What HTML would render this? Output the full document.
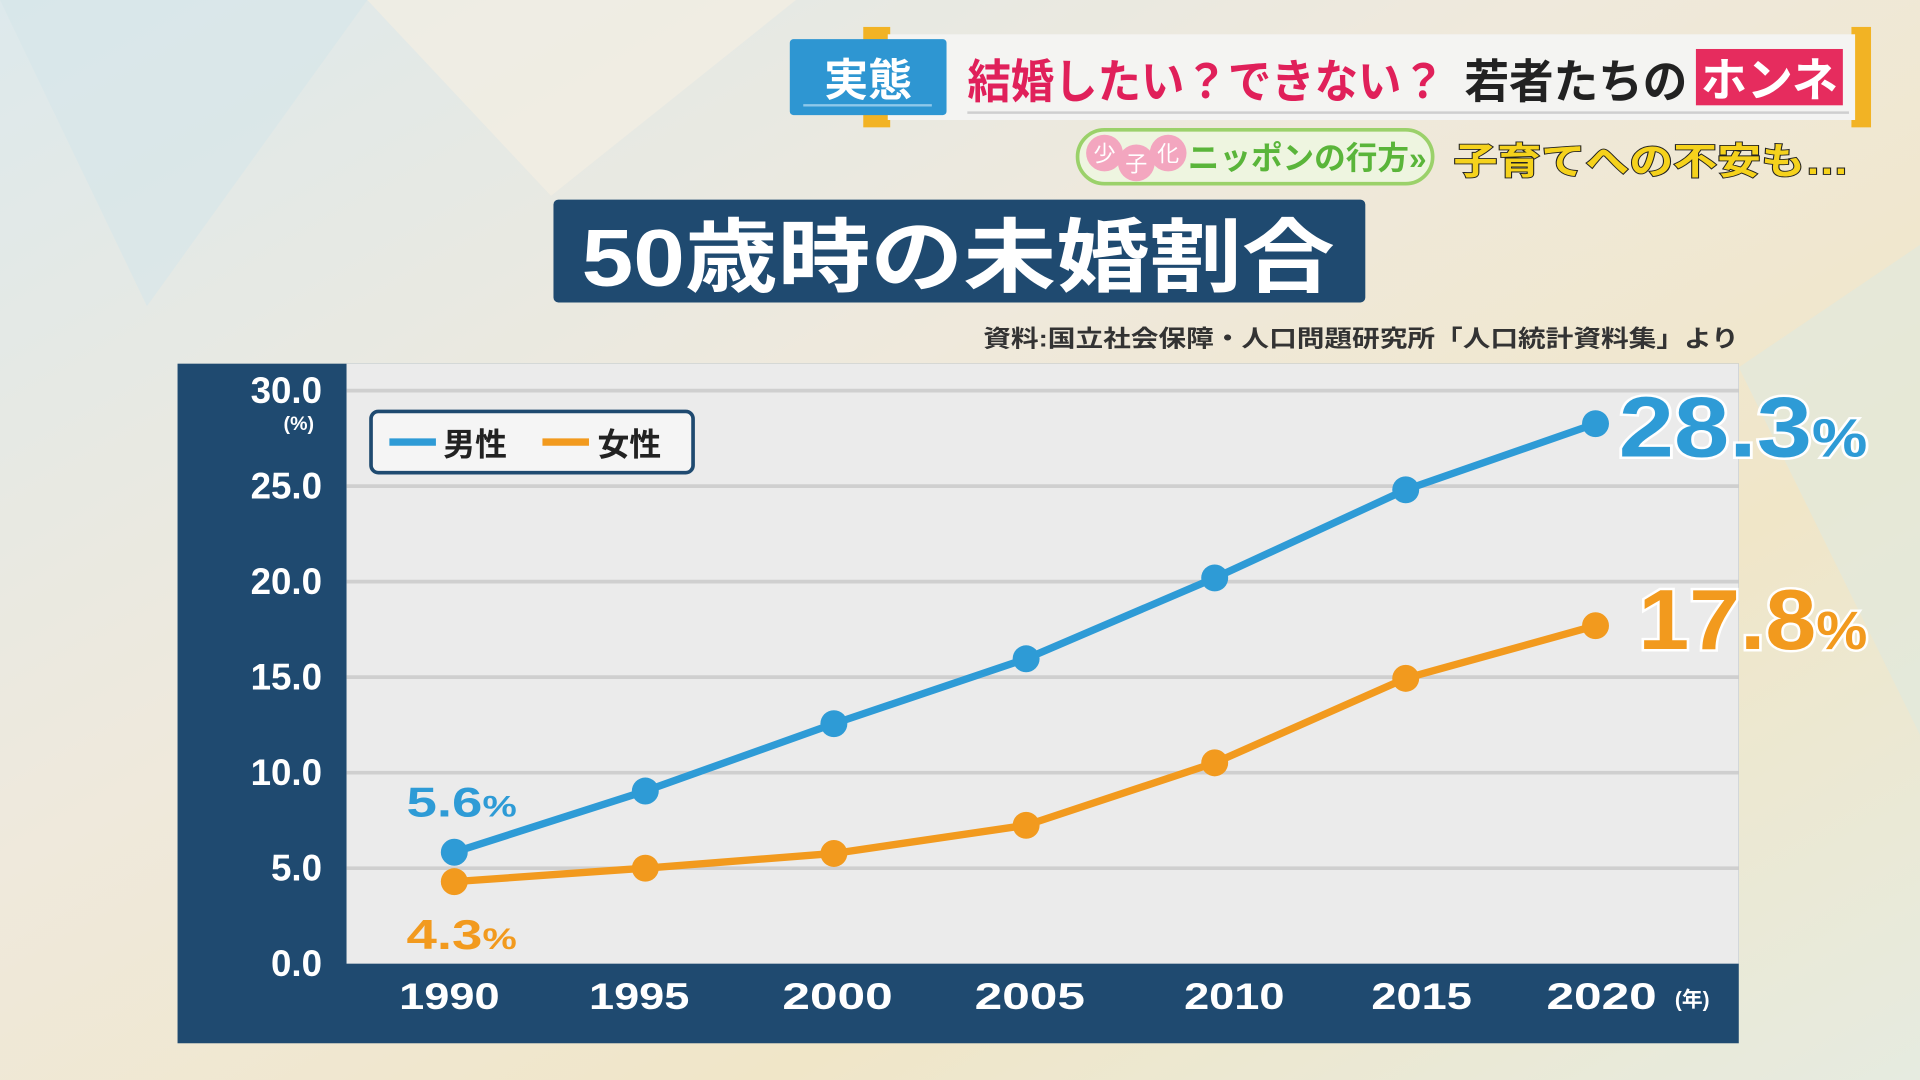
<!DOCTYPE html>
<html><head><meta charset="utf-8"><style>
html,body{margin:0;padding:0;width:1920px;height:1080px;overflow:hidden;background:#eee8d8}
svg{display:block}
text{font-family:"Liberation Sans","Noto Sans CJK JP",sans-serif}
</style></head><body>
<svg width="1920" height="1080" viewBox="0 0 1568 882" xmlns="http://www.w3.org/2000/svg">
<defs>
<linearGradient id="bg" x1="0" y1="0" x2="1" y2="1">
<stop offset="0" stop-color="#dde9ec"/><stop offset="0.4" stop-color="#efe9dc"/><stop offset="0.7" stop-color="#f0e6c8"/><stop offset="1" stop-color="#e6ebe0"/>
</linearGradient>
</defs>
<rect width="1568" height="882" fill="url(#bg)"/>
<polygon points="0,0 300,0 120,250" fill="#d6e6ea" opacity="0.6"/>
<polygon points="1420,300 1568,200 1568,600" fill="#dfeadf" opacity="0.6"/>
<polygon points="300,0 650,0 450,160" fill="#f3eee2" opacity="0.7"/>
<!-- header -->
<rect x="705" y="22" width="22" height="82" fill="#f2b324"/>
<rect x="1512" y="22" width="16" height="82" fill="#f2b324"/>
<rect x="725" y="28" width="790" height="70" fill="#f4f4f2"/>
<line x1="790" y1="92" x2="1510" y2="92" stroke="#cfcfcf" stroke-width="2"/>
<rect x="645" y="32" width="128" height="62" rx="3" fill="#2e96d2"/>
<text x="709" y="78" font-size="36" font-weight="bold" fill="#fff" text-anchor="middle">実態</text>
<line x1="656" y1="86" x2="761" y2="86" stroke="#8fc8ea" stroke-width="2"/>
<text x="790" y="80" font-size="38" font-weight="bold" fill="#e0205a" textLength="390" lengthAdjust="spacingAndGlyphs">結婚したい？できない？</text>
<text x="1196" y="80" font-size="38" font-weight="bold" fill="#222" textLength="182" lengthAdjust="spacingAndGlyphs">若者たちの</text>
<rect x="1385" y="40" width="120" height="46" fill="#e62c5e"/>
<text x="1445" y="79" font-size="38" font-weight="bold" fill="#fff" text-anchor="middle" textLength="112" lengthAdjust="spacingAndGlyphs">ホンネ</text>
<rect x="880" y="106" width="290" height="44" rx="22" fill="#eef5e0" stroke="#9bd16a" stroke-width="3"/>
<circle cx="902" cy="125" r="15" fill="#f3a6bf"/><circle cx="928" cy="133" r="15" fill="#f3a6bf"/><circle cx="954" cy="125" r="15" fill="#f3a6bf"/>
<text x="902" y="132" font-size="18" fill="#fff" text-anchor="middle">少</text>
<text x="928" y="140" font-size="18" fill="#fff" text-anchor="middle">子</text>
<text x="954" y="132" font-size="18" fill="#fff" text-anchor="middle">化</text>
<text x="970" y="138" font-size="26" font-weight="bold" fill="#5ab53a" textLength="195" lengthAdjust="spacingAndGlyphs">ニッポンの行方»</text>
<text x="1187" y="142" font-size="30" font-weight="bold" fill="#f5d21c" stroke="#222" stroke-width="1.5" paint-order="stroke" textLength="323" lengthAdjust="spacingAndGlyphs">子育てへの不安も…</text>
<!-- title -->
<rect x="452" y="163" width="663" height="84" rx="4" fill="#1f4a70"/>
<text x="475" y="233" font-size="66" font-weight="bold" fill="#fff" textLength="615" lengthAdjust="spacingAndGlyphs">50歳時の未婚割合</text>
<text x="803" y="283" font-size="19" font-weight="bold" fill="#333" textLength="617" lengthAdjust="spacingAndGlyphs">資料:国立社会保障・人口問題研究所「人口統計資料集」より</text>
<!-- chart -->
<rect x="145" y="297" width="1275" height="555" fill="#1f4a70"/>
<rect x="283" y="297" width="1137" height="490" fill="#ebebeb"/>
<g stroke="#cfcfcf" stroke-width="3">
<line x1="283" y1="319" x2="1420" y2="319"/><line x1="283" y1="397" x2="1420" y2="397"/>
<line x1="283" y1="475" x2="1420" y2="475"/><line x1="283" y1="553" x2="1420" y2="553"/>
<line x1="283" y1="631" x2="1420" y2="631"/><line x1="283" y1="709" x2="1420" y2="709"/>
</g>
<g font-size="30" font-weight="bold" fill="#fff" text-anchor="end">
<text x="263" y="329">30.0</text><text x="263" y="407">25.0</text><text x="263" y="485">20.0</text>
<text x="263" y="563">15.0</text><text x="263" y="641">10.0</text><text x="263" y="719">5.0</text><text x="263" y="797">0.0</text>
</g>
<text x="244" y="351" font-size="16" font-weight="bold" fill="#fff" text-anchor="middle">(%)</text>
<g font-size="30" font-weight="bold" fill="#fff" text-anchor="middle">
<text x="367" y="824" textLength="82" lengthAdjust="spacingAndGlyphs">1990</text><text x="522" y="824" textLength="82" lengthAdjust="spacingAndGlyphs">1995</text><text x="684" y="824" textLength="90" lengthAdjust="spacingAndGlyphs">2000</text>
<text x="841" y="824" textLength="90" lengthAdjust="spacingAndGlyphs">2005</text><text x="1008" y="824" textLength="82" lengthAdjust="spacingAndGlyphs">2010</text><text x="1161" y="824" textLength="82" lengthAdjust="spacingAndGlyphs">2015</text><text x="1308" y="824" textLength="90" lengthAdjust="spacingAndGlyphs">2020</text>
</g>
<text x="1382" y="822" font-size="17" font-weight="bold" fill="#fff" text-anchor="middle">(年)</text>
<!-- legend -->
<rect x="303" y="336" width="263" height="50" rx="6" fill="#f5f5f5" stroke="#1f4a70" stroke-width="3"/>
<line x1="318" y1="361" x2="356" y2="361" stroke="#2e9bd6" stroke-width="6"/>
<text x="362" y="372" font-size="26" font-weight="bold" fill="#222">男性</text>
<line x1="443" y1="361" x2="481" y2="361" stroke="#f29a1e" stroke-width="6"/>
<text x="488" y="372" font-size="26" font-weight="bold" fill="#222">女性</text>
<!-- series -->
<polyline points="371,696 527,646 681,591 838,538 992,472 1148,400 1303,346" fill="none" stroke="#2e9bd6" stroke-width="6"/>
<polyline points="371,720 527,709 681,697 838,674 992,623 1148,554 1303,511" fill="none" stroke="#f29a1e" stroke-width="6"/>
<g fill="#2e9bd6"><circle cx="371" cy="696" r="11"/><circle cx="527" cy="646" r="11"/><circle cx="681" cy="591" r="11"/><circle cx="838" cy="538" r="11"/><circle cx="992" cy="472" r="11"/><circle cx="1148" cy="400" r="11"/><circle cx="1303" cy="346" r="11"/></g>
<g fill="#f29a1e"><circle cx="371" cy="720" r="11"/><circle cx="527" cy="709" r="11"/><circle cx="681" cy="697" r="11"/><circle cx="838" cy="674" r="11"/><circle cx="992" cy="623" r="11"/><circle cx="1148" cy="554" r="11"/><circle cx="1303" cy="511" r="11"/></g>
<text x="332" y="667" font-size="34" font-weight="bold" fill="#2e9bd6" textLength="90" lengthAdjust="spacingAndGlyphs">5.6<tspan font-size="24">%</tspan></text>
<text x="332" y="775" font-size="34" font-weight="bold" fill="#f29a1e" textLength="90" lengthAdjust="spacingAndGlyphs">4.3<tspan font-size="24">%</tspan></text>
<text x="1322" y="373" font-size="70" font-weight="bold" fill="#2e9bd6" stroke="#fff" stroke-width="4" paint-order="stroke" textLength="203" lengthAdjust="spacingAndGlyphs">28.3<tspan font-size="44">%</tspan></text>
<text x="1338" y="530" font-size="70" font-weight="bold" fill="#f29a1e" stroke="#fff" stroke-width="4" paint-order="stroke" textLength="187" lengthAdjust="spacingAndGlyphs">17.8<tspan font-size="44">%</tspan></text>
</svg>
</body></html>
